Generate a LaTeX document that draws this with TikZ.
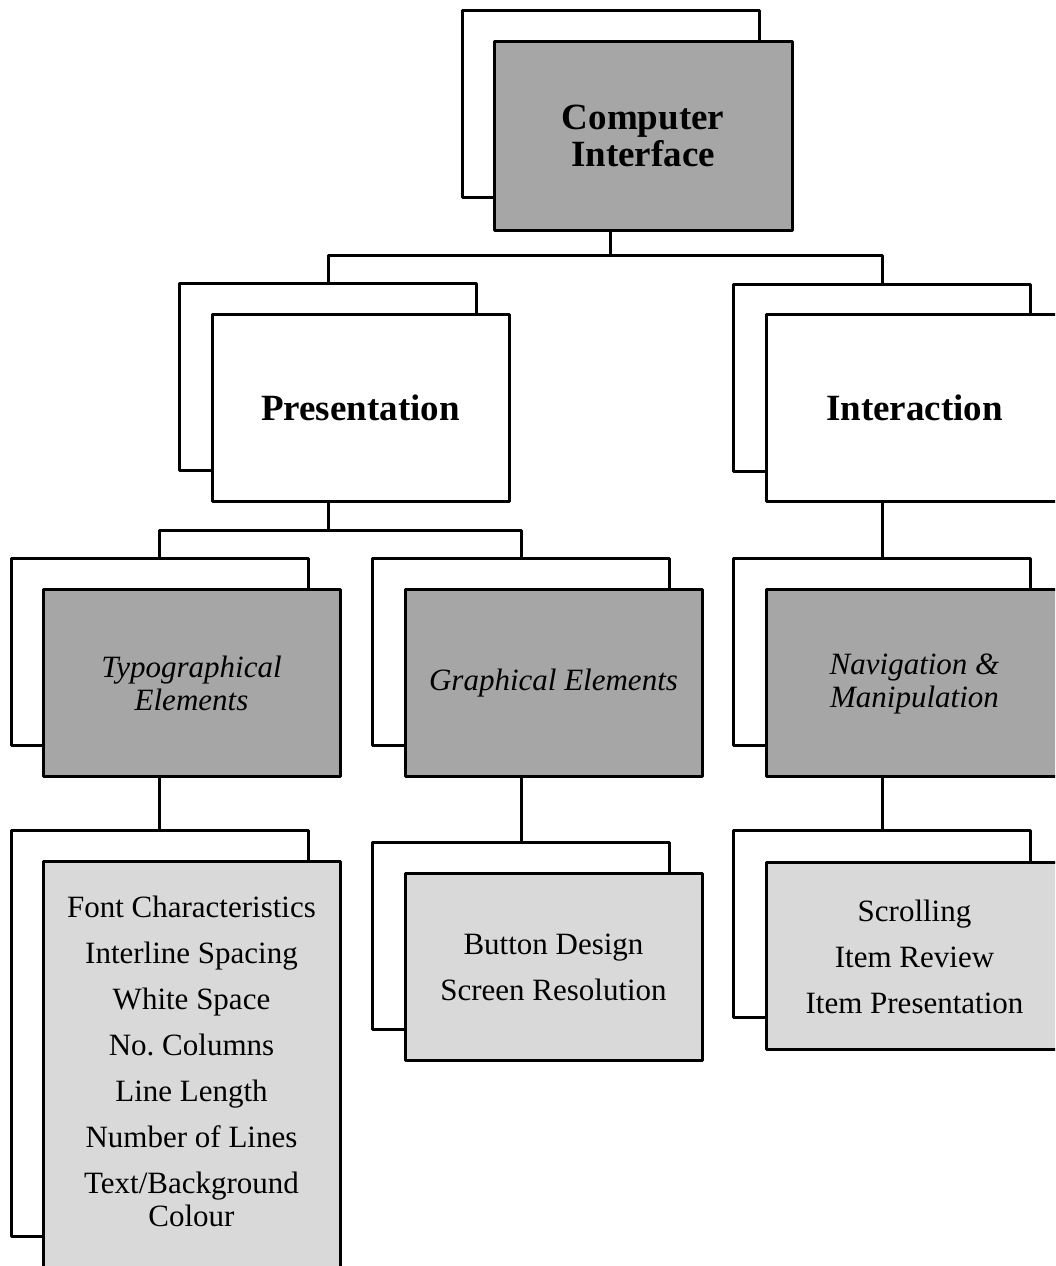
\documentclass[tikz,border=0pt]{standalone}
\usepackage{fontspec}
\setmainfont{Liberation Serif}
\definecolor{darkbox}{HTML}{A6A6A6}
\definecolor{lightbox}{HTML}{D9D9D9}
\frenchspacing
\begin{document}
\begin{tikzpicture}[x=1pt,y=-1pt,
  every node/.style={inner sep=0pt,outer sep=0pt},
  card/.style={draw=black,line width=3pt,line join=round,minimum width=297pt,minimum height=187pt,rectangle},
  backcard/.style={card,fill=white},
  darkcard/.style={card,fill=darkbox},
  lightcard/.style={card,fill=lightbox},
  whitecard/.style={card,fill=white},
  link/.style={draw=black,line width=3pt,line join=round},
  titletext/.style={font=\fontsize{37}{37}\selectfont\bfseries,align=center},
  subtext/.style={font=\fontsize{31}{33}\selectfont\itshape,align=center},
  listtext/.style={font=\fontsize{31}{46}\selectfont,align=center}
]
\useasboundingbox (0,0) rectangle (1055,1266);
\clip (0,0) rectangle (1055,1266);
\fill[white] (0,0) rectangle (1055,1266);

% Computer Interface
\node[backcard] (ciB) at (610.5,103.5) {};
\node[darkcard,minimum width=298pt,minimum height=189pt] (ciF) at (643,135.5) {};
\node[titletext] (ciT) at (643,136) {Computer\\Interface};

% Presentation
\node[backcard] (prB) at (328,376.5) {};
\node[whitecard] (prF) at (360.5,408) {};
\node[titletext] (prT) at (360.5,408) {Presentation};

% Interaction
\node[backcard] (inB) at (882,377.5) {};
\node[whitecard] (inF) at (914.5,408) {};
\node[titletext] (inT) at (914.5,408) {Interaction};

% Typographical Elements
\node[backcard] (tyB) at (159.5,651.5) {};
\node[darkcard] (tyF) at (191.5,682.5) {};
\node[subtext] (tyT) at (191.5,683) {Typographical\\Elements};

% Graphical Elements
\node[backcard] (grB) at (521,651.5) {};
\node[darkcard] (grF) at (553.5,682.5) {};
\node[subtext] (grT) at (553.5,683) {Graphical Elements};

% Navigation & Manipulation
\node[backcard] (nvB) at (882,651.5) {};
\node[darkcard] (nvF) at (914.5,682.5) {};
\node[subtext] (nvT) at (914.5,684) {Navigation \&\\Manipulation};

% Typographical list
\node[backcard,minimum height=406pt] (liB) at (159.5,1033) {};
\node[lightcard,minimum height=480pt] (liF) at (191.5,1101) {};
\node[listtext] (liT) at (191.5,1061) {Font Characteristics\\Interline Spacing\\White Space\\No. Columns\\Line Length\\Number of Lines\\Text/Background\\[-13pt]Colour};

% Graphical list
\node[backcard] (gbB) at (521,935.5) {};
\node[lightcard] (gbF) at (553.5,966.5) {};
\node[listtext] (gbT) at (553.5,967) {Button Design\\Screen Resolution};

% Navigation list
\node[backcard] (scB) at (882,923.5) {};
\node[lightcard] (scF) at (914.5,955.5) {};
\node[listtext] (scT) at (914.5,957) {Scrolling\\Item Review\\Item Presentation};

% Connectors
\coordinate (j1) at (610.5,255);
\draw[link] (ciF.south -| ciB.south) -- (j1);
\draw[link] (j1) -| (prB.north);
\draw[link] (j1) -| (inB.north);

\coordinate (j2) at (328,530);
\draw[link] (prF.south -| prB.south) -- (j2);
\draw[link] (j2) -| (tyB.north);
\draw[link] (j2) -| (grB.north);

\draw[link] (inF.south -| inB.south) -- (nvB.north);
\draw[link] (tyF.south -| tyB.south) -- (liB.north);
\draw[link] (grF.south -| grB.south) -- (gbB.north);
\draw[link] (nvF.south -| nvB.south) -- (scB.north);
\end{tikzpicture}
\end{document}
